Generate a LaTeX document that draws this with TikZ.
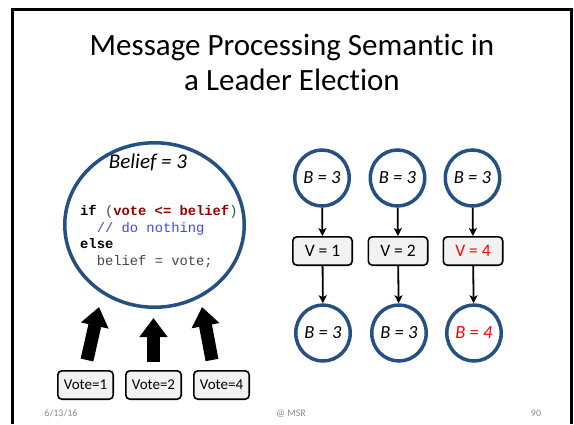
\documentclass[tikz,border=0pt]{standalone}
\usepackage{fontspec}
\setmainfont{Carlito}[Ligatures=NoCommon]
\newfontfamily\codefont{Liberation Mono}
\usetikzlibrary{arrows.meta,shapes.geometric}
\definecolor{ringblue}{RGB}{37,80,132}
\definecolor{boxgray}{RGB}{242,242,242}
\definecolor{codered}{RGB}{153,0,0}
\definecolor{codeblue}{RGB}{64,64,255}
\definecolor{codegray}{RGB}{70,70,70}
\definecolor{footgray}{RGB}{140,140,140}
\begin{document}
\begin{tikzpicture}[x=1pt,y=-1pt,
  ring/.style={ellipse, draw=ringblue, line width=3.5pt, inner sep=0pt,
    minimum width=54.5pt, minimum height=56pt,
    font=\fontsize{18.5}{20}\selectfont\itshape},
  msgbox/.style={draw=black, line width=1.6pt, rounded corners=4pt, fill=boxgray,
    minimum width=59.4pt, minimum height=28.4pt, inner sep=0pt,
    font=\fontsize{17.5}{20}\selectfont},
  votebox/.style={msgbox, minimum width=55.4pt, font=\fontsize{15}{18}\selectfont},
  thinarrow/.style={draw, line width=1.8pt, -{Stealth[length=8pt,width=8pt,inset=2pt]}},
  fatarrow/.style={draw, line width=13pt, -{Triangle[length=19pt,width=27pt]}},
  codeline/.style={anchor=base west, inner sep=0pt, text=codegray,
    font=\codefont\fontsize{13.8}{16.7}\selectfont},
  foot/.style={anchor=base, inner sep=0pt, text=footgray, font=\fontsize{10}{12}\selectfont},
  titleline/.style={anchor=base, inner sep=0pt, font=\fontsize{31}{36}\selectfont}
]
\useasboundingbox (0,0) rectangle (574,424);

% slide frame, open at the bottom
\draw[line width=2.5pt] (12.5,424) -- (12.5,9.5) -- (571.5,9.5) -- (571.5,424);

% title
\node[titleline] (title1) at (292,55) {Message Processing Semantic in};
\node[titleline] (title2) at (292,90) {a Leader Election};

% the receiving process and its handler
\node[ellipse, draw=ringblue, line width=3.5pt, minimum width=179.5pt,
      minimum height=164.5pt, inner sep=0pt] (proc) at (154.5,225) {};
\node[anchor=base, inner sep=0pt, font=\fontsize{21}{24}\selectfont\itshape]
  (belief) at (148,168) {Belief = 3};
\node[codeline] (code1) at (80,215.5)
  {\textcolor{black}{\bfseries if} (\textcolor{codered}{\bfseries vote <= belief})};
\node[codeline, text=codeblue] (code2) at (96.6,232.2) {// do nothing};
\node[codeline, text=black] (code3) at (80,248.9) {\bfseries else};
\node[codeline] (code4) at (96.6,265.6) {belief = vote;};

% incoming votes
\node[votebox] (vote1) at (85.5,385) {Vote=1};
\node[votebox] (vote2) at (153.5,385) {Vote=2};
\node[votebox] (vote4) at (221.5,385) {Vote=4};

\coordinate (tip1) at (99,307);
\coordinate (tip2) at (153.5,318);
\coordinate (tip4) at (202,307);
\draw[fatarrow] ([xshift=1.5pt,yshift=10pt]vote1.north) -- (tip1);
\draw[fatarrow] ([yshift=8pt]vote2.north) -- (tip2);
\draw[fatarrow] ([xshift=-9.5pt,yshift=10pt]vote4.north) -- (tip4);

% three processes: state before, message, state after
\node[ring] (pre1) at (322,178) {B = 3};
\node[ring] (pre2) at (397.5,178) {B = 3};
\node[ring] (pre3) at (472.5,178) {B = 3};

\node[msgbox] (msg1) at (322.5,251) {V = 1};
\node[msgbox] (msg2) at (398,251) {V = 2};
\node[msgbox, text=red] (msg3) at (473,251) {V = 4};

\node[ring] (post1) at (323,333) {B = 3};
\node[ring] (post2) at (399,333) {B = 3};
\node[ring, text=red] (post3) at (474,333) {B = 4};

\draw[thinarrow] (pre1) -- (msg1);
\draw[thinarrow] (pre2) -- (msg2);
\draw[thinarrow] (pre3) -- (msg3);
\draw[thinarrow] (msg1) -- (post1);
\draw[thinarrow] (msg2) -- (post2);
\draw[thinarrow] (msg3) -- (post3);

% footer
\node[foot] (date) at (61,416) {6/13/16};
\node[foot] (src) at (291,416) {@ MSR};
\node[foot] (page) at (536,416) {90};
\end{tikzpicture}
\end{document}
